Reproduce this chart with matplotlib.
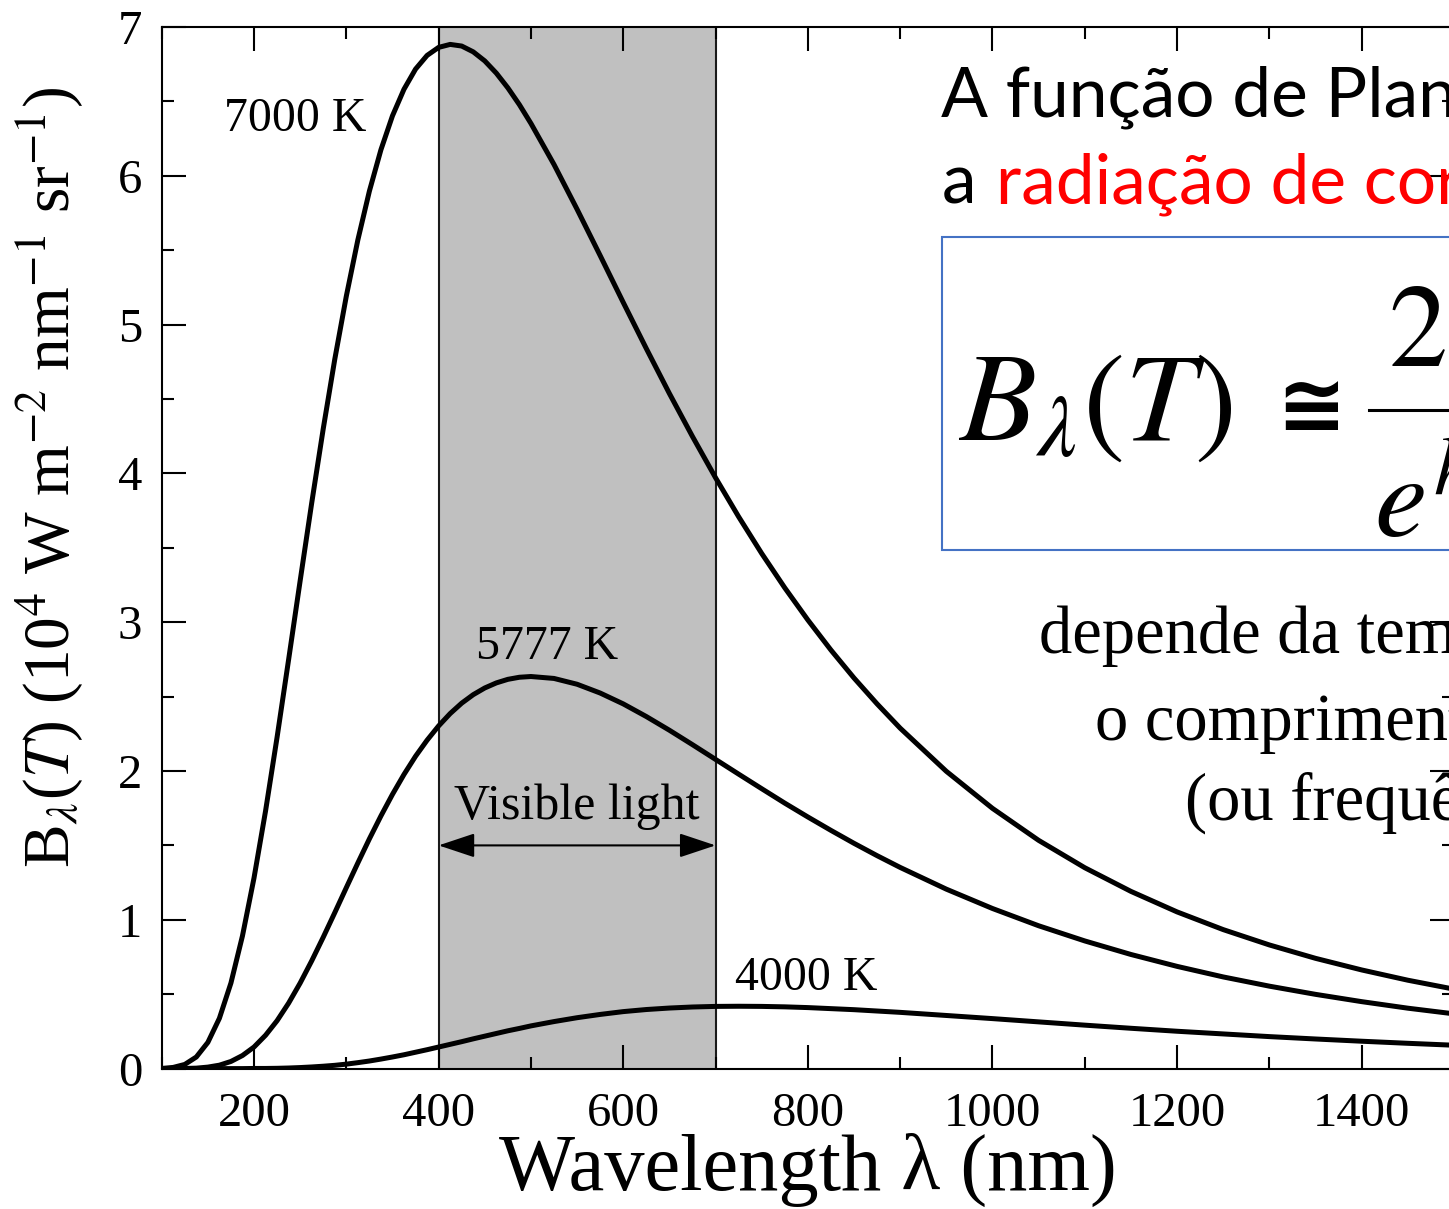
import numpy as np
import matplotlib
matplotlib.use("Agg")
import matplotlib.pyplot as plt
from matplotlib.ticker import MultipleLocator
from matplotlib.patches import Rectangle
from matplotlib.lines import Line2D

# ---------------- data ----------------
wl = [100, 112.5, 125, 137.5, 150, 162.5, 175, 187.5, 200, 212.5, 225, 237.5,
      250, 262.5, 275, 287.5, 300, 312.5, 325, 337.5, 350, 362.5, 375, 387.5,
      400, 412.5, 425, 437.5, 450, 462.5, 475, 487.5, 500, 525, 550, 575, 600,
      625, 650, 675, 700, 725, 750, 775, 800, 825, 850, 875, 900, 950, 1000,
      1050, 1100, 1150, 1200, 1250, 1300, 1350, 1400, 1450, 1500]
b_7000 = [0.001, 0.008, 0.028, 0.078, 0.176, 0.338, 0.575, 0.892, 1.281, 1.731,
          2.227, 2.749, 3.279, 3.801, 4.300, 4.767, 5.191, 5.569, 5.897, 6.175,
          6.403, 6.582, 6.717, 6.809, 6.863, 6.883, 6.872, 6.833, 6.772, 6.690,
          6.591, 6.478, 6.352, 6.076, 5.775, 5.464, 5.149, 4.839, 4.537, 4.248,
          3.971, 3.709, 3.462, 3.231, 3.015, 2.813, 2.625, 2.451, 2.288, 1.998,
          1.749, 1.534, 1.350, 1.191, 1.053, 0.934, 0.831, 0.741, 0.663, 0.594,
          0.534]
b_5777 = [0.000, 0.000, 0.001, 0.003, 0.010, 0.023, 0.048, 0.088, 0.145, 0.224,
          0.322, 0.440, 0.575, 0.724, 0.883, 1.048, 1.216, 1.382, 1.544, 1.698,
          1.843, 1.977, 2.099, 2.207, 2.303, 2.386, 2.456, 2.513, 2.558, 2.592,
          2.616, 2.630, 2.635, 2.622, 2.583, 2.524, 2.451, 2.366, 2.274, 2.177,
          2.078, 1.979, 1.881, 1.784, 1.691, 1.601, 1.514, 1.431, 1.352, 1.206,
          1.076, 0.960, 0.858, 0.767, 0.687, 0.616, 0.554, 0.499, 0.450, 0.406,
          0.368]
b_4000 = [0.000, 0.000, 0.000, 0.000, 0.000, 0.000, 0.000, 0.000, 0.001, 0.001,
          0.002, 0.004, 0.007, 0.011, 0.016, 0.022, 0.030, 0.040, 0.051, 0.064,
          0.078, 0.093, 0.110, 0.127, 0.145, 0.163, 0.181, 0.200, 0.218, 0.236,
          0.254, 0.270, 0.287, 0.316, 0.342, 0.364, 0.383, 0.397, 0.407, 0.414,
          0.418, 0.419, 0.418, 0.415, 0.410, 0.403, 0.396, 0.387, 0.378, 0.357,
          0.336, 0.314, 0.292, 0.271, 0.251, 0.233, 0.215, 0.199, 0.184, 0.170,
          0.157]
curve_labels = ["7000 K", "5777 K", "4000 K"]
label_pos = [(167, 6.30), (440, 2.75), (721, 0.53)]   # (nm, value) of label baseline-left
visible_band = (400, 700)
x_ticks = [200, 400, 600, 800, 1000, 1200, 1400]
y_ticks = [0, 1, 2, 3, 4, 5, 6, 7]

# ---------------- layout ----------------
W, H = 1449, 1209
SERIF = ["Liberation Serif", "DejaVu Serif"]
plt.rcParams["mathtext.fontset"] = "stix"
plt.rcParams["font.family"] = SERIF

def fx(px):
    return px / W

def fy(py):
    return 1 - py / H

fig = plt.figure(figsize=(W / 100, H / 100), dpi=100)
# right spine sits just past the picture edge
ax_l, ax_r, ax_t, ax_b = 161.7, 1454.0, 27.0, 1068.6
ax = fig.add_axes([fx(ax_l), fy(ax_b), (ax_r - ax_l) / W, (ax_b - ax_t) / H])

ax.axvspan(*visible_band, color="#c0c0c0", zorder=0, lw=0)
for xv in visible_band:
    ax.axvline(xv, color="#1a1a1a", lw=1.5, zorder=1)

for vals in (b_7000, b_5777, b_4000):
    ax.plot(wl, vals, color="black", lw=3.6, solid_joinstyle="round",
            solid_capstyle="round", zorder=3)

for lab, (xl, yl) in zip(curve_labels, label_pos):
    ax.text(xl, yl, lab, fontsize=34.5, ha="left", va="baseline")

ax.annotate("", xy=(visible_band[0], 1.5), xytext=(visible_band[1], 1.5),
            arrowprops=dict(arrowstyle="<|-|>,head_length=0.75,head_width=0.25",
                            color="black", lw=1.5, mutation_scale=30,
                            shrinkA=0, shrinkB=0), zorder=4)
ax.text(550, 1.68, "Visible light", fontsize=36, ha="center", va="baseline")

ax.set_xlim(100, 1500)
ax.set_ylim(0, 7)
ax.set_xticks(x_ticks)
ax.set_yticks(y_ticks)
ax.xaxis.set_minor_locator(MultipleLocator(100))
ax.yaxis.set_minor_locator(MultipleLocator(0.5))
ax.tick_params(which="both", direction="in", top=True, right=True, width=1.5)
ax.tick_params(which="major", length=17)
ax.tick_params(which="minor", length=8.5)
ax.tick_params(axis="x", labelsize=35, pad=17)
ax.tick_params(axis="y", labelsize=35, pad=14)
for sp in ax.spines.values():
    sp.set_linewidth(1.5)

ax.set_xlabel("Wavelength λ (nm)", fontsize=58, va="top")
ax.xaxis.set_label_coords(0.5, -0.062)
ax.set_ylabel(r"B$_\lambda$($T$) (10$^{4}$ W m$^{-2}$ nm$^{-1}$ sr$^{-1}$)",
              fontsize=47, va="center", ha="center")
ax.yaxis.set_label_coords((50 - ax_l) / (ax_r - ax_l), (ax_b - 477) / (ax_b - ax_t))

# ---------------- slide overlay ----------------
SANS = ["Lato", "DejaVu Sans"]
fig.text(fx(941), fy(116.7), "A função de Planck descreve", fontsize=50,
         family=SANS, va="baseline", ha="left")
fig.text(fx(942), fy(203), "a", fontsize=50, family=SANS, va="baseline")
fig.text(fx(996), fy(203), "radiação de corpo negro", fontsize=50, family=SANS,
         color="#ff0000", va="baseline")

box = Rectangle((fx(941.7), fy(550)), (W - 941.7 + 30) / W, (550 - 237) / H,
                transform=fig.transFigure, facecolor="white",
                edgecolor="#4472c4", lw=1.5, zorder=4)
fig.add_artist(box)

fig.text(fx(958), fy(440), r"$B_\lambda(T)$", fontsize=91, va="baseline", zorder=5)
fig.text(fx(1276), fy(433), "≅", fontsize=60, family=["DejaVu Sans"],
         fontweight="bold", va="baseline", zorder=5)
fig.add_artist(Line2D([fx(1369), fx(W + 40)], [fy(410), fy(410)], color="black",
                      lw=2.2, transform=fig.transFigure, zorder=5))
fig.text(fx(1388), fy(368), r"$2hc^2/\lambda^5$", fontsize=85, va="baseline", zorder=5)
fig.text(fx(1374), fy(537), r"$e^{hc/\lambda kT}-1$", fontsize=85, va="baseline", zorder=5)

fig.text(fx(1039), fy(653), "depende da temperatura e", fontsize=48, va="baseline")
fig.text(fx(1095), fy(740), "o comprimento de onda", fontsize=48, va="baseline")
fig.text(fx(1185), fy(820), "(ou frequência)", fontsize=48, va="baseline")

fig.savefig("out.png", dpi=100)
